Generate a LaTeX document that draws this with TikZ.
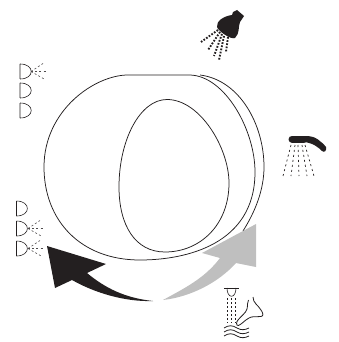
\documentclass[tikz,border=0pt]{standalone}
\usepackage{tikz}
\definecolor{inkdark}{HTML}{231F20}
\definecolor{arrowgray}{HTML}{BFBFBF}
\tikzset{
	body/.style={line width=0.75pt,draw=inkdark},
	nozzle/.style={line width=0.6pt,draw=inkdark},
	spray/.style={line width=0.6pt,draw=inkdark!80,dash pattern=on 2pt off 2.2pt},
	jet/.style={line width=1pt,draw=inkdark,dash pattern=on 2pt off 2pt},
	dots/.style={line width=1.9pt,draw=inkdark,dash pattern=on 1.7pt off 1.5pt},
}
\begin{document}
\begin{tikzpicture}[x=1pt,y=-1pt]
	\useasboundingbox (0,0) rectangle (339,342);
				% back edge of the body
				\draw[body] (200,75) .. controls (240,80) and (264,125) .. (264,167) .. controls (264,190) and (255,212) .. (243,231);
				% front of the body
				\draw[body] (128,75) .. controls (95,75) and (44,110) .. (44,167) .. controls (44,220) and (80,260) .. (140,260) .. controls (185,260) and (255,245) .. (255,172) .. controls (255,130) and (225,76) .. (190,75) -- cycle;
				% opening
				\draw[body] (167,99.5) .. controls (140,99.5) and (119,140) .. (119,187) .. controls (119,225) and (135,252) .. (165,252) .. controls (200,252) and (229,225) .. (229,183) .. controls (229,148) and (200,99.5) .. (167,99.5) -- cycle;
				% arrows
				\fill[arrowgray] (163,300) .. controls (185,288) and (205,278) .. (220,258) -- (202,253) -- (256,224) -- (256,267) -- (236,263) .. controls (218,283) and (190,297) .. (163,300) -- cycle;
				\fill[inkdark] (153,301) .. controls (125,298) and (105,288) .. (87,273) -- (106,264) -- (47,246) -- (55,288) -- (72,280) .. controls (95,293) and (125,302) .. (153,301) -- cycle;
				% nozzles on the left
				\foreach \yn in {64,83,103}
					\draw[nozzle] (20,\yn) -- (20,\yn+15) (20,\yn) .. controls (35,\yn) and (35,\yn+15) .. (20,\yn+15);
				\foreach \yn in {201,221,241}
					\draw[nozzle] (16.5,\yn) -- (16.5,\yn+15) (16.5,\yn) .. controls (31,\yn) and (31,\yn+15) .. (16.5,\yn+15);
				\foreach \yn/\xn in {64/0,221/-3,241/-3}
					\foreach \dy/\ex in {-8/43,0/46,8/45}
						\draw[spray,xshift=\xn pt] (31,\yn+7.5) -- (\ex,\yn+7.5+\dy);
				% shower head at the top
				\fill[inkdark] (233,12) -- (237,10) -- (244,16) -- (240,22) .. controls (238,27) and (240,33) .. (235,38) .. controls (231,40) and (218,31) .. (217,27) .. controls (216,21) and (224,16) .. (232,15) -- cycle;
				\foreach \xa/\ya/\xb/\yb in {218/30/201/42,220/32/208/50,222/34/214/56,224/36/219/60,228/37/226/52}
					\draw[dots] (\xa,\ya) -- (\xb,\yb);
				% hand shower on the right
				\draw[line width=7pt,draw=inkdark,line cap=round] (292,139) -- (304,139);
				\fill[inkdark] (304,136) -- (308,136) .. controls (315,136) and (322,142) .. (326,147) .. controls (327,151) and (324,153) .. (322,151) .. controls (318,147) and (313,143) .. (304,142) -- cycle;
				\foreach \xa/\xb in {291/283,295/291,298/299,302/307,305/314}
					\draw[jet,line width=0.7pt,dash pattern=on 2pt off 3pt] (\xa,145) -- (\xb,176);
				% nozzle, foot and water at the bottom
				\draw[nozzle] (224,288) -- (239,288);
				\draw[nozzle] (227,288) .. controls (227,299) and (236,299) .. (236,288);
				\foreach \xn in {227.5,231.5,235.5}
					\draw[jet] (\xn,298) -- (\xn,323);
				\draw[line width=0.8pt,draw=inkdark] (253,297) .. controls (253,303) and (258,305) .. (261,310) .. controls (263,313) and (264,316) .. (261,316.5) .. controls (256,317) and (252,316) .. (249,318) .. controls (245,320) and (242,324) .. (238.5,325.5) .. controls (236,326) and (236,322) .. (238,320) .. controls (241,316) and (246,313) .. (247,309) .. controls (248,305) and (247,302) .. (248.5,300);
				\foreach \yn in {328,332,336}
					\draw[line width=0.8pt,draw=inkdark] (224,\yn) .. controls (229,\yn-3) and (232,\yn-3) .. (237,\yn) .. controls (241,\yn+2.5) and (245,\yn+2) .. (249,\yn);
\end{tikzpicture}
\end{document}
